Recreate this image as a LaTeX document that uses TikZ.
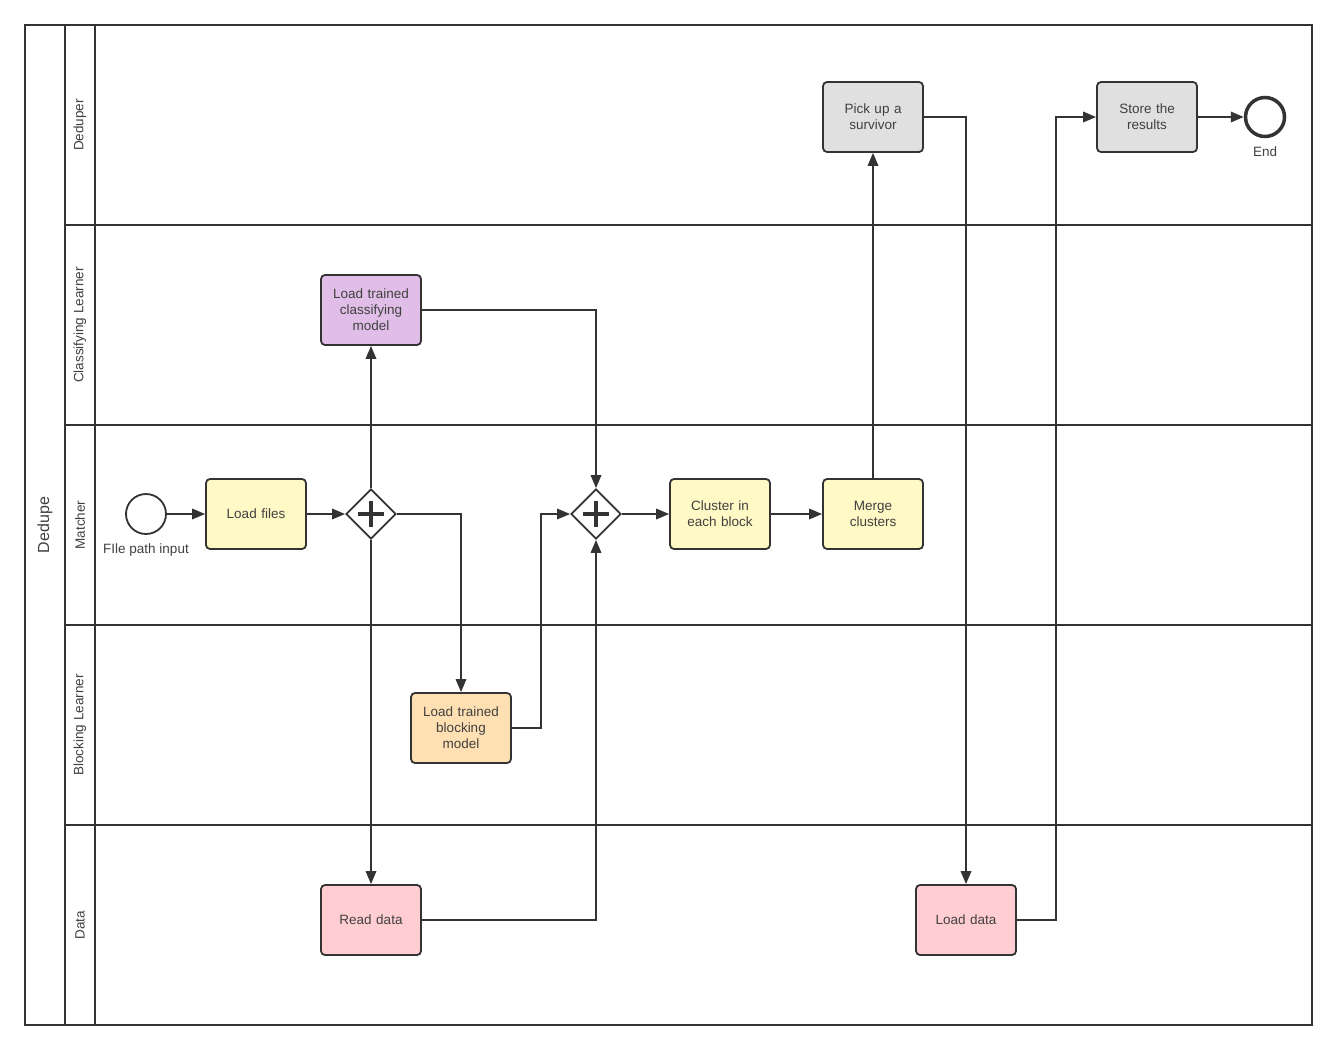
\documentclass[tikz,border=0pt]{standalone}
\usepackage{fontspec}
\setmainfont{Liberation Sans}
\usetikzlibrary{arrows.meta,shapes.geometric}
\definecolor{ln}{HTML}{333333}
\definecolor{tx}{HTML}{404040}
\definecolor{fyel}{HTML}{FFF9C6}
\definecolor{fpur}{HTML}{E1BEE7}
\definecolor{forg}{HTML}{FFE0B2}
\definecolor{fpnk}{HTML}{FFCDD2}
\definecolor{fgry}{HTML}{E0E0E0}
\tikzset{
  task/.style={draw=ln,line width=1.8pt,rounded corners=4pt,minimum width=100pt,minimum height=70pt,inner sep=0pt,align=center,text=tx,font=\fontsize{13.5}{16}\selectfont,text width=92pt},
  ev/.style={draw=ln,circle,line width=1.8pt,minimum size=40pt,inner sep=0pt,fill=white},
  gw/.style={draw=ln,diamond,line width=1.8pt,minimum width=50pt,minimum height=50pt,inner sep=0pt,fill=white},
  flow/.style={draw=ln,line width=1.8pt,-{Triangle[length=13pt,width=10.5pt]}},
  lane/.style={draw=ln,line width=1.8pt},
  lanelbl/.style={rotate=90,text=tx,font=\fontsize{13.5}{16}\selectfont},
  evlbl/.style={text=tx,font=\fontsize{13.5}{16}\selectfont}
}
\begin{document}
\begin{tikzpicture}[x=1pt,y=-1pt]
\useasboundingbox (0,0) rectangle (1337,1050);
\fill[white] (0,0) rectangle (1337,1050);
% pool and lanes
\draw[lane] (25,25) rectangle (1312,1025);
\draw[lane] (65,25) -- (65,1025);
\draw[lane] (95,25) -- (95,1025);
\foreach \yy in {225,425,625,825}{\draw[lane] (65,\yy) -- (1312,\yy);}
\node[rotate=90,text=tx,font=\fontsize{16}{18}\selectfont] (pool) at (45,525) {Dedupe};
\node[lanelbl] (l1) at (80,125) {Deduper};
\node[lanelbl] (l2) at (80,325) {Classifying Learner};
\node[lanelbl] (l3) at (80,525) {Matcher};
\node[lanelbl] (l4) at (80,725) {Blocking Learner};
\node[lanelbl] (l5) at (80,925) {Data};
% nodes
\node[ev] (start) at (146,514) {};
\node[evlbl,below=5pt] (startl) at (start.south) {FIle path input};
\node[task,fill=fyel] (load) at (256,514) {Load files};
\node[gw] (g1) at (371,514) {};
\node[task,fill=fpur] (clsm) at (371,310) {Load trained\\classifying\\model};
\node[task,fill=forg] (blkm) at (461,728) {Load trained\\blocking\\model};
\node[task,fill=fpnk] (read) at (371,920) {Read data};
\node[gw] (g2) at (596,514) {};
\node[task,fill=fyel] (clus) at (720,514) {Cluster in\\each block};
\node[task,fill=fyel] (merge) at (873,514) {Merge\\clusters};
\node[task,fill=fgry] (pick) at (873,117) {Pick up a\\survivor};
\node[task,fill=fpnk] (ldata) at (966,920) {Load data};
\node[task,fill=fgry] (store) at (1147,117) {Store the\\results};
\node[ev,line width=3.5pt,minimum size=39pt] (end) at (1265,117) {};
\node[evlbl,below=5pt] (endl) at (end.south) {End};
% gateway plus signs
\foreach \g in {g1,g2}{
  \draw[ln,line width=4.5pt] ([xshift=-13pt]\g.center) -- ([xshift=13pt]\g.center);
  \draw[ln,line width=4.5pt] ([yshift=-13pt]\g.center) -- ([yshift=13pt]\g.center);
}
% flows
\draw[flow] (start) -- (load);
\draw[flow] (load) -- (g1);
\draw[flow] (g1.north) -- (clsm.south);
\draw[flow] (g1.east) -| (blkm.north);
\draw[flow] (g1.south) -- (read.north);
\draw[flow] (clsm.east) -| (g2.north);
\draw[flow] (blkm.east) -- (541,728) |- (g2.west);
\draw[flow] (read.east) -| (g2.south);
\draw[flow] (g2.east) -- (clus.west);
\draw[flow] (clus) -- (merge);
\draw[flow] (merge.north) -- (pick.south);
\draw[flow] (pick.east) -| (ldata.north);
\draw[flow] (ldata.east) -- (1056,920) |- (store.west);
\draw[flow] (store) -- (end);
\end{tikzpicture}
\end{document}
